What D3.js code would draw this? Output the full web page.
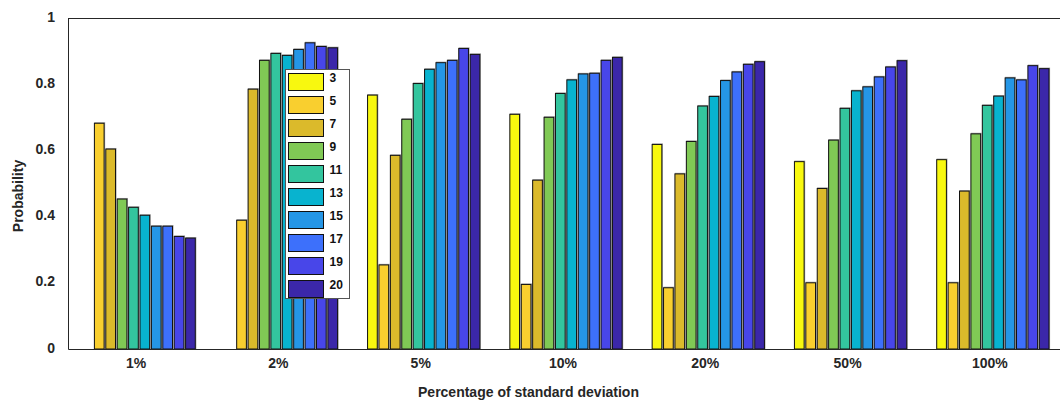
<!DOCTYPE html>
<html>
<head>
<meta charset="utf-8">
<script src="https://cdn.jsdelivr.net/npm/d3@7"></script>
<style>
  html, body { margin: 0; padding: 0; background: #fff; }
  svg { display: block; font-family: "Liberation Sans", Arial, Helvetica, sans-serif; font-weight: bold; }
</style>
</head>
<body>
<svg id="chart" width="1060" height="402"></svg>
<script>
// Noise levels (percentage of standard deviation)
const categories = ["1%", "2%", "5%", "10%", "20%", "50%", "100%"];
// Window sizes shown in the legend
const series = ["3", "5", "7", "9", "11", "13", "15", "17", "19", "20"];
const seriesColors = ["#f8f80f", "#f9cf2f", "#dbba2b", "#80c955", "#33c59e", "#08b3cf", "#2596e6", "#3d70fb", "#4846e9", "#3b27a9"];

// Probability per window size, one value per noise level
const s3  = [0,     0,     0.767, 0.709, 0.618, 0.566, 0.572];
const s5  = [0.682, 0.389, 0.254, 0.195, 0.185, 0.200, 0.200];
const s7  = [0.604, 0.785, 0.585, 0.510, 0.529, 0.485, 0.477];
const s9  = [0.453, 0.872, 0.694, 0.700, 0.627, 0.631, 0.650];
const s11 = [0.428, 0.893, 0.802, 0.772, 0.734, 0.727, 0.736];
const s13 = [0.404, 0.887, 0.845, 0.813, 0.763, 0.780, 0.764];
const s15 = [0.371, 0.905, 0.865, 0.831, 0.811, 0.792, 0.819];
const s17 = [0.371, 0.925, 0.872, 0.833, 0.837, 0.822, 0.813];
const s19 = [0.340, 0.914, 0.908, 0.872, 0.860, 0.852, 0.856];
const s20 = [0.335, 0.910, 0.890, 0.881, 0.868, 0.871, 0.847];
const seriesValues = [s3, s5, s7, s9, s11, s13, s15, s17, s19, s20];

const yTicks = [0, 0.2, 0.4, 0.6, 0.8, 1];

const svg = d3.select("#chart");
const plot = { left: 68, right: 1064, top: 18, bottom: 349 };
const ink = "#262626";
const fontFamily = "Liberation Sans, Arial, sans-serif";

const x = d3.scaleBand().domain(categories).range([plot.left, plot.right]).padding(0);
const groupWidth = 114;
const xInner = d3.scaleBand().domain(series)
  .range([-groupWidth / 2, groupWidth / 2])
  .paddingInner(0.15).paddingOuter(0.075);
const y = d3.scaleLinear().domain([0, 1]).range([plot.bottom, plot.top]);
const color = d3.scaleOrdinal().domain(series).range(seriesColors);

// Bars
const cells = [];
seriesValues.forEach((vals, si) => {
  vals.forEach((v, ci) => {
    if (v > 0) cells.push({ s: series[si], c: categories[ci], v });
  });
});

const bars = svg.append("g");
const bx = d => x(d.c) + x.bandwidth() / 2 + xInner(d.s);

bars.selectAll("rect.shadow").data(cells).join("rect")
  .attr("class", "shadow")
  .attr("x", d => bx(d) + 0.5)
  .attr("y", d => y(d.v) - 0.5)
  .attr("width", xInner.bandwidth())
  .attr("height", d => y(0) - y(d.v))
  .attr("fill", "none")
  .attr("stroke", "#a8a8a8")
  .attr("stroke-width", 1.2);

bars.selectAll("rect.bar").data(cells).join("rect")
  .attr("class", "bar")
  .attr("x", d => bx(d))
  .attr("y", d => y(d.v))
  .attr("width", xInner.bandwidth())
  .attr("height", d => y(0) - y(d.v))
  .attr("fill", d => color(d.s))
  .attr("stroke", "#111")
  .attr("stroke-width", 1);

// Axes box (top edge; right edge falls outside the canvas)
svg.append("line").attr("x1", plot.left).attr("x2", plot.right)
  .attr("y1", plot.top + 0.5).attr("y2", plot.top + 0.5)
  .attr("stroke", ink).attr("stroke-width", 1);

const yAxis = svg.append("g").attr("transform", `translate(${plot.left},0)`)
  .call(d3.axisLeft(y).tickValues(yTicks).tickSize(0).tickPadding(13)
    .tickFormat(d => String(+d.toFixed(1))));
yAxis.select(".domain").attr("stroke", ink);
yAxis.selectAll("text").attr("font-size", 14).attr("font-weight", "bold")
  .attr("fill", ink).attr("font-family", fontFamily)
  .attr("dy", "0.22em");

const xAxis = svg.append("g").attr("transform", `translate(0,${plot.bottom})`)
  .call(d3.axisBottom(x).tickSize(0).tickPadding(9));
xAxis.select(".domain").attr("stroke", ink);
xAxis.selectAll("text").attr("font-size", 14).attr("font-weight", "bold")
  .attr("fill", ink).attr("font-family", fontFamily)
  .attr("dx", -3);

// Axis titles
svg.append("text")
  .attr("x", 528.5).attr("y", 396.5)
  .attr("text-anchor", "middle")
  .attr("font-size", 14).attr("fill", ink)
  .text("Percentage of standard deviation");

svg.append("text")
  .attr("transform", "translate(23,196) rotate(-90)")
  .attr("text-anchor", "middle")
  .attr("font-size", 14).attr("fill", ink)
  .text("Probability");

// Legend
const legend = svg.append("g").attr("transform", "translate(285.5,69.5)");
legend.append("rect").attr("width", 64).attr("height", 229)
  .attr("fill", "#fff").attr("stroke", "#555").attr("stroke-width", 1);
const item = legend.selectAll("g.item").data(series).join("g")
  .attr("class", "item")
  .attr("transform", (d, i) => `translate(3,${4 + i * 23})`);
item.append("rect").attr("width", 35).attr("height", 17)
  .attr("fill", d => color(d)).attr("stroke", "#111").attr("stroke-width", 1);
item.append("text").attr("x", 41).attr("y", 8)
  .attr("font-size", 12).attr("fill", "#111")
  .text(d => d);
</script>
</body>
</html>
